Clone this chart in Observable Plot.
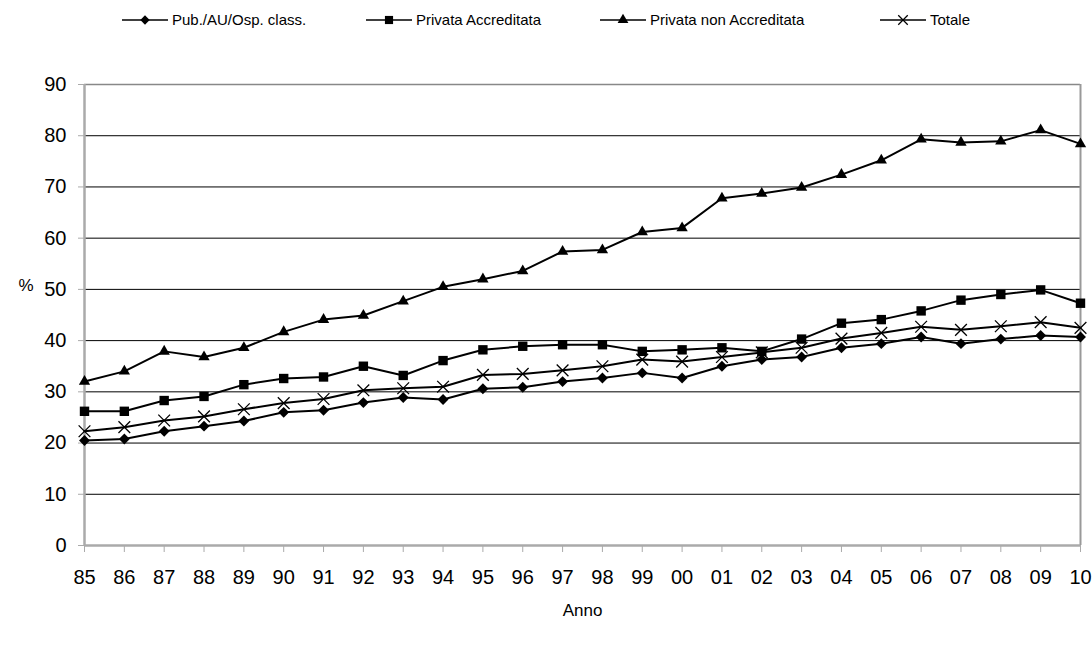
<!DOCTYPE html>
<html>
<head>
<meta charset="utf-8">
<script src="https://cdn.jsdelivr.net/npm/d3@7"></script>
<script src="https://cdn.jsdelivr.net/npm/@observablehq/plot@0.6"></script>
<style>
  body { margin: 0; background: #fff; font-family: "Liberation Sans", Arial, sans-serif; }
  #legend { position: relative; height: 40px; font-size: 15px; }
  .item { position: absolute; top: 11px; display: flex; align-items: center; white-space: nowrap; }
  .item svg { margin-right: 4px; }
</style>
</head>
<body>
<div id="legend"></div>
<div id="chart"></div>
<script>
const years = ["85","86","87","88","89","90","91","92","93","94","95","96","97","98","99","00","01","02","03","04","05","06","07","08","09","10"];
const pub = [20.5,20.8,22.3,23.3,24.3,26.0,26.4,27.9,28.9,28.5,30.6,30.9,32.0,32.7,33.7,32.7,35.0,36.3,36.8,38.6,39.4,40.7,39.4,40.3,41.0,40.7];
const acc = [26.2,26.2,28.3,29.1,31.4,32.6,32.9,35.0,33.2,36.1,38.2,38.9,39.2,39.2,37.9,38.2,38.6,37.9,40.3,43.4,44.1,45.8,47.9,49.0,49.9,47.3];
const nonAcc = [32.0,34.0,37.9,36.8,38.6,41.7,44.1,44.9,47.7,50.5,52.0,53.6,57.4,57.7,61.2,62.0,67.8,68.7,69.9,72.4,75.2,79.3,78.7,78.9,81.1,78.4];
const tot = [22.3,23.1,24.4,25.2,26.6,27.8,28.6,30.3,30.7,31.0,33.3,33.5,34.2,35.0,36.3,35.9,36.8,37.7,38.6,40.4,41.5,42.7,42.1,42.8,43.6,42.5];
const seriesNames = ["Pub./AU/Osp. class.", "Privata Accreditata", "Privata non Accreditata", "Totale"];

const series = [
  {name: seriesNames[0], values: pub, symbol: "diamond2", r: 4.9, lr: 4.2, fill: "black", stroke: "black", sw: 0, legendX: 122},
  {name: seriesNames[1], values: acc, symbol: "square", r: 5.3, lr: 4.6, fill: "black", stroke: "black", sw: 0, legendX: 366},
  {name: seriesNames[2], values: nonAcc, symbol: "triangle", r: 4.2, lr: 4, fill: "black", stroke: "black", sw: 0, legendX: 600},
  {name: seriesNames[3], values: tot, symbol: "times", r: 5.4, lr: 4.4, fill: "none", stroke: "black", sw: 1.3, legendX: 880}
];

const rows = series.flatMap(s => years.map((y, i) => ({anno: y, value: s.values[i], serie: s.name})));

// legend
const symbolMap = {diamond2: d3.symbolDiamond2, square: d3.symbolSquare, triangle: d3.symbolTriangle, times: d3.symbolTimes};
const legend = d3.select("#legend");
for (const s of series) {
  const item = legend.append("div").attr("class", "item").style("left", s.legendX + "px");
  const svg = item.append("svg").attr("width", 46).attr("height", 14);
  svg.append("line").attr("x1", 0).attr("x2", 46).attr("y1", 7).attr("y2", 7).attr("stroke", "black").attr("stroke-width", 1.5);
  svg.append("path")
    .attr("d", d3.symbol(symbolMap[s.symbol], Math.PI * s.lr ** 2)())
    .attr("transform", "translate(23,7)")
    .attr("fill", s.fill).attr("stroke", s.stroke).attr("stroke-width", s.sw);
  item.append("span").text(s.name);
}

const chart = Plot.plot({
  width: 1092,
  height: 606,
  marginTop: 44,
  marginBottom: 101,
  marginLeft: 84,
  marginRight: 12,
  style: {fontFamily: "'Liberation Sans', Arial, sans-serif", fontSize: "20px", color: "black", overflow: "visible"},
  x: {type: "point", domain: years, padding: 0, round: false},
  y: {domain: [0, 90]},
  marks: [
    Plot.ruleY(d3.range(10, 90, 10), {stroke: "black", strokeWidth: 1}),
    Plot.ruleY([90], {stroke: "#888", strokeWidth: 1.5}),
    Plot.ruleX([years[years.length - 1]], {stroke: "#999", strokeWidth: 2}),
    Plot.axisY({ticks: d3.range(0, 100, 10), tickSize: 6, tickPadding: 12, label: null, stroke: "#aaa", fontSize: 20}),
    Plot.axisX({tickSize: 7, tickPadding: 17, label: null, stroke: "#aaa", fontSize: 20}),
    Plot.ruleX([years[0]], {stroke: "#aaa", strokeWidth: 2.5}),
    Plot.ruleY([0], {stroke: "#aaa", strokeWidth: 2.5}),
    ...series.map(s => Plot.line(rows.filter(d => d.serie === s.name), {x: "anno", y: "value", stroke: "black", strokeWidth: 2})),
    ...series.map(s => Plot.dot(rows.filter(d => d.serie === s.name), {x: "anno", y: "value", symbol: () => s.symbol, r: s.r, fill: s.fill, stroke: s.stroke, strokeWidth: s.sw})),
    Plot.text(["%"], {frameAnchor: "left", dx: -66, dy: -29, fontSize: 17}),
    Plot.text(["Anno"], {frameAnchor: "bottom", dy: 70, fontSize: 17})
  ]
});
document.getElementById("chart").appendChild(chart);
</script>
</body>
</html>
